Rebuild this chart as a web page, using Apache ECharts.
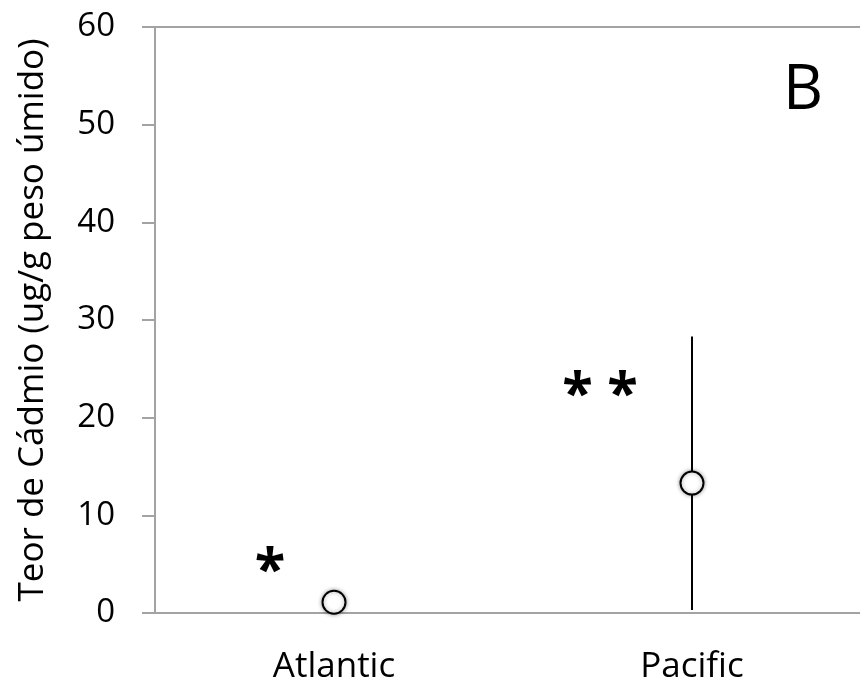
<!DOCTYPE html>
<html>
<head>
<meta charset="utf-8">
<script src="https://cdn.jsdelivr.net/npm/echarts@6/dist/echarts.min.js"></script>
<style>
  html, body { margin: 0; padding: 0; background: #fff; }
  #chart { width: 860px; height: 684px; }
</style>
</head>
<body>
<div id="chart"></div>
<script>
// data
var categories = ['Atlantic', 'Pacific'];
var means = [1.1, 13.3];
var errLow = [0.7, 0.3];
var errHigh = [1.5, 28.3];
var marks = ['*', '* *'];
var markValues = [5.4, 23.4];
var yTicks = [0, 10, 20, 30, 40, 50, 60];

var axisGray = '#a3a3a3';
var font = 'Open Sans';

var myChart = echarts.init(document.getElementById('chart'));

var option = {
  backgroundColor: '#fff',
  animation: false,
  grid: { left: 155, top: 27, bottom: 71, right: -11, outerBoundsMode: 'none' },
  title: {
    text: 'B',
    right: 32,
    top: 55,
    textStyle: { fontFamily: font, fontSize: 62, fontWeight: 'normal', color: '#000' }
  },
  xAxis: [
    {
      type: 'category',
      data: categories,
      axisLine: { lineStyle: { color: axisGray, width: 2 } },
      axisTick: { length: 12, lineStyle: { color: axisGray, width: 2 } },
      axisLabel: { margin: 37, fontFamily: font, fontSize: 35, color: '#000' }
    },
    {
      type: 'category',
      position: 'top',
      data: categories,
      axisLine: { lineStyle: { color: axisGray, width: 2 } },
      axisTick: { show: false },
      axisLabel: { show: false }
    }
  ],
  yAxis: {
    type: 'value',
    min: yTicks[0],
    max: yTicks[yTicks.length - 1],
    interval: 10,
    name: 'Teor de Cádmio (ug/g peso úmido)',
    nameLocation: 'middle',
    nameGap: 104,
    nameTextStyle: { fontFamily: font, fontSize: 35, color: '#000' },
    axisLine: { show: true, lineStyle: { color: axisGray, width: 2 } },
    axisTick: { show: true, length: 13, lineStyle: { color: axisGray, width: 2 } },
    axisLabel: { margin: 40, fontFamily: font, fontSize: 33, color: '#000' },
    splitLine: { show: false }
  },
  series: [
    {
      type: 'custom',
      z: 2,
      renderItem: function (params, api) {
        var top = api.coord([api.value(0), api.value(2)]);
        var bot = api.coord([api.value(0), api.value(1)]);
        return {
          type: 'line',
          shape: { x1: top[0], y1: top[1], x2: bot[0], y2: bot[1] },
          style: { stroke: '#000', lineWidth: 2 }
        };
      },
      data: categories.map(function (c, i) { return [i, errLow[i], errHigh[i]]; })
    },
    {
      type: 'scatter',
      z: 3,
      symbol: 'circle',
      symbolSize: 23,
      itemStyle: {
        opacity: 1,
        color: '#fff',
        borderColor: '#000',
        borderWidth: 2,
        shadowBlur: 4,
        shadowColor: 'rgba(0,0,0,0.35)'
      },
      data: categories.map(function (c, i) { return [i, means[i]]; })
    },
    {
      type: 'scatter',
      z: 4,
      symbolSize: 0,
      silent: true,
      itemStyle: { opacity: 1 },
      label: {
        show: true,
        position: 'inside',
        fontFamily: font,
        fontWeight: 'bold',
        fontSize: 56,
        color: '#000',
        formatter: function (p) { return marks[p.dataIndex]; }
      },
      data: categories.map(function (c, i) {
        return {
          value: [i, markValues[i]],
          label: { offset: [i === 0 ? -64 : -92, 12] }
        };
      })
    }
  ]
};

myChart.setOption(option);
</script>
</body>
</html>
